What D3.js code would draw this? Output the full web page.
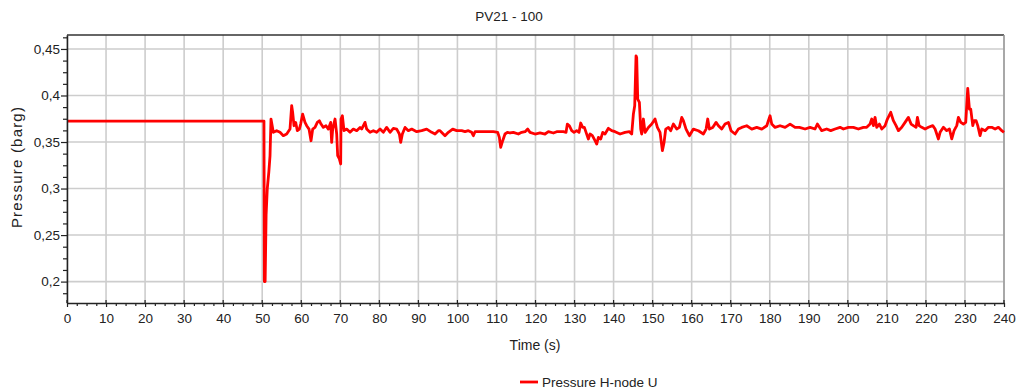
<!DOCTYPE html>
<html>
<head>
<meta charset="utf-8">
<script src="https://cdn.jsdelivr.net/npm/d3@7"></script>
<style>
  html, body { margin: 0; padding: 0; background: #fff; }
  svg { display: block; }
  text { font-family: "Liberation Sans", Arial, sans-serif; fill: #222; }
</style>
</head>
<body>
<svg id="chart" width="1019" height="391"></svg>
<script>
// ---- data ----
const chartTitle = "PV21 - 100";
const seriesName = "Pressure H-node U";
const xLabel = "Time (s)";
const yLabel = "Pressure (barg)";
const xTickValues = [0,10,20,30,40,50,60,70,80,90,100,110,120,130,140,150,160,170,180,190,200,210,220,230,240];
const yTickValues = [0.2, 0.25, 0.3, 0.35, 0.4, 0.45];
const yTickLabels = ["0,2", "0,25", "0,3", "0,35", "0,4", "0,45"];

const timeSec = [
  0, 50.45, 50.55, 50.75, 51.0, 51.3, 51.7, 52.0,
  52.25, 52.85, 53.70, 54.56, 55.41, 56.27, 57.12, 57.55, 57.80, 58.14, 58.57, 59.00,
  59.51, 59.85, 60.36, 60.96, 61.39, 61.99, 62.50, 62.93, 63.52, 64.12, 64.63, 65.06,
  65.66, 66.34, 66.94, 67.54, 67.79, 68.05, 68.65, 69.08, 69.33, 69.76, 70.10, 70.19,
  70.53, 70.95, 71.64, 72.49, 73.34, 74.20, 75.05, 75.48, 76.33, 76.76, 77.61, 78.47,
  79.32, 80.18, 81.03, 81.88, 82.74, 83.59, 84.45, 85.13, 85.47, 85.90, 86.58, 87.44,
  88.29, 89.57, 90.85, 92.13, 93.41, 94.27, 95.12,
  95.54, 96.82, 97.68, 98.79, 99.81, 101.09, 101.95, 102.80, 103.65, 104.08, 104.51,
  105.79, 107.50, 109.21, 110.32, 110.74, 111.08, 111.60, 112.19, 112.79, 113.48,
  114.33, 115.61, 116.46, 117.32, 118.00, 118.60, 119.88, 121.16, 122.44, 123.30,
  124.58, 125.43, 127.14, 127.82, 128.16, 128.68, 129.27, 129.87, 130.55, 131.15,
  131.58, 132.09, 132.52, 132.95, 133.54, 133.97, 134.57, 135.25, 135.68, 136.11,
  136.70, 137.22, 137.81, 138.67, 139.52, 140.38, 141.66, 142.94, 144.05,
  144.64, 145.07, 145.41, 145.75, 145.92, 146.18, 146.61, 146.95, 147.20, 147.63,
  148.06, 148.91, 149.77, 150.62, 151.22, 151.90, 152.50, 152.93, 153.35, 154.04,
  154.63, 155.32, 156.17, 156.85, 157.45, 157.88, 158.56, 159.42, 160.44, 161.72,
  163.00, 163.69, 164.11, 164.54, 165.39, 166.25, 166.85, 167.70, 168.55, 169.41,
  170.09, 171.12, 171.97, 172.82, 174.10, 175.39, 176.67, 177.95, 179.23, 180.08,
  180.51, 181.36, 182.64, 183.93, 185.21, 186.49, 187.60,
  189.04, 190.32, 191.60, 192.20, 193.31, 194.59, 195.62, 196.73, 198.01, 198.86,
  200.14, 201.42, 202.70, 203.99, 204.84, 205.69, 206.12, 206.55, 206.97, 207.40,
  208.08, 208.68, 209.54, 210.13, 210.99, 211.67, 212.35, 212.95, 213.81, 214.66,
  215.51, 216.20, 216.79, 217.48, 217.82, 218.25, 218.93, 219.78, 220.64, 221.75,
  222.35, 223.20, 223.63, 224.48, 225.33, 226.02, 226.62, 227.21, 227.90, 228.32,
  228.92, 229.60, 230.20, 230.71, 231.14, 231.48, 232.00, 232.34, 232.85, 233.28,
  233.87, 234.30, 235.16, 236.01, 236.86, 237.72, 238.57, 239.43, 240.0
];

const pressureBarg = [
  0.3725, 0.3725, 0.200, 0.200, 0.272, 0.300, 0.318, 0.335,
  0.3747, 0.3604, 0.3622, 0.3604, 0.3568, 0.3586, 0.3639, 0.3890, 0.3818, 0.3675, 0.3711, 0.3622,
  0.3639, 0.3693, 0.3800, 0.3711, 0.3675, 0.3639, 0.3514, 0.3639, 0.3657, 0.3711, 0.3729, 0.3693,
  0.3657, 0.3675, 0.3639, 0.3711, 0.3496, 0.3639, 0.3747, 0.3586, 0.3353, 0.3318, 0.3264, 0.3747,
  0.3783, 0.3622, 0.3639, 0.3604, 0.3639, 0.3622, 0.3657, 0.3639, 0.3711, 0.3639, 0.3604, 0.3622,
  0.3604, 0.3639, 0.3604, 0.3657, 0.3604, 0.3647, 0.3639, 0.3586, 0.3496, 0.3586, 0.3657, 0.3622,
  0.3639, 0.3611, 0.3622, 0.3639, 0.3604, 0.3586, 0.3622,
  0.3622, 0.3568, 0.3604, 0.3639, 0.3622, 0.3622, 0.3611, 0.3622, 0.3604, 0.3568, 0.3611,
  0.3611, 0.3611, 0.3611, 0.3604, 0.3550, 0.3443, 0.3514, 0.3586, 0.3604, 0.3597,
  0.3604, 0.3586, 0.3604, 0.3611, 0.3639, 0.3604, 0.3586, 0.3597, 0.3586, 0.3611,
  0.3597, 0.3611, 0.3611, 0.3604, 0.3693, 0.3675, 0.3622, 0.3604, 0.3622, 0.3604,
  0.3704, 0.3657, 0.3657, 0.3604, 0.3532, 0.3586, 0.3568, 0.3514, 0.3478, 0.3550,
  0.3532, 0.3604, 0.3586, 0.3647, 0.3622, 0.3611, 0.3586, 0.3604, 0.3611,
  0.3586, 0.3800, 0.3890, 0.4426, 0.4408, 0.3961, 0.3925, 0.3639, 0.3586, 0.3747,
  0.3603, 0.3657, 0.3693, 0.3747, 0.3657, 0.3603, 0.3407, 0.3496, 0.3639, 0.3657,
  0.3621, 0.3693, 0.3639, 0.3657, 0.3764, 0.3729, 0.3639, 0.3568, 0.3639, 0.3621,
  0.3586, 0.3639, 0.3747, 0.3639, 0.3657, 0.3711, 0.3675, 0.3639, 0.3693, 0.3711,
  0.3621, 0.3586, 0.3639, 0.3657, 0.3675, 0.3639, 0.3657, 0.3639, 0.3675, 0.3782,
  0.3693, 0.3657, 0.3675, 0.3657, 0.3693, 0.3657, 0.3657,
  0.3640, 0.3658, 0.3640, 0.3693, 0.3622, 0.3640, 0.3622, 0.3640, 0.3658, 0.3640,
  0.3658, 0.3658, 0.3640, 0.3658, 0.3658, 0.3693, 0.3747, 0.3676, 0.3765, 0.3658,
  0.3693, 0.3640, 0.3676, 0.3747, 0.3819, 0.3729, 0.3676, 0.3622, 0.3658, 0.3711,
  0.3765, 0.3693, 0.3676, 0.3658, 0.3765, 0.3676, 0.3658, 0.3640, 0.3658, 0.3676,
  0.3640, 0.3533, 0.3604, 0.3658, 0.3622, 0.3640, 0.3533, 0.3622, 0.3676, 0.3765,
  0.3711, 0.3693, 0.3711, 0.4076, 0.3854, 0.3854, 0.3676, 0.3729, 0.3729, 0.3676,
  0.3568, 0.3640, 0.3622, 0.3658, 0.3658, 0.3640, 0.3658, 0.3622, 0.3604
];

// ---- layout ----
const W = 1019, H = 391;
const m = { left: 67, right: 1004, top: 35, bottom: 303 };
const svg = d3.select("#chart");
svg.append("rect").attr("width", W).attr("height", H).attr("fill", "#fff");

const x = d3.scaleLinear().domain([0, 240]).range([m.left, m.right]);
const y = d3.scaleLinear().domain([0.177, 0.465]).range([m.bottom, m.top]);

// grid
const grid = svg.append("g");
grid.selectAll("line.v").data(xTickValues).join("line")
  .attr("x1", d => x(d)).attr("x2", d => x(d))
  .attr("y1", m.top).attr("y2", m.bottom)
  .attr("stroke", "#cdcdcd").attr("stroke-width", 1.6);
grid.selectAll("line.h").data(yTickValues).join("line")
  .attr("x1", m.left).attr("x2", m.right)
  .attr("y1", d => y(d)).attr("y2", d => y(d))
  .attr("stroke", "#cdcdcd").attr("stroke-width", 1.6);

// frame: top and right
svg.append("line").attr("x1", m.left).attr("x2", m.right).attr("y1", m.top).attr("y2", m.top)
  .attr("stroke", "#333").attr("stroke-width", 1.5);
svg.append("line").attr("x1", m.right).attr("x2", m.right).attr("y1", m.top).attr("y2", m.bottom)
  .attr("stroke", "#999").attr("stroke-width", 1.5);

// data line
const data = timeSec.map((t, i) => ({ t, p: pressureBarg[i] }));
const line = d3.line().x(d => x(d.t)).y(d => y(d.p));
svg.append("path").datum(data)
  .attr("d", line)
  .attr("fill", "none")
  .attr("stroke", "#ff0000")
  .attr("stroke-width", 2.8)
  .attr("stroke-linejoin", "round");

// minor ticks
const xMinor = d3.range(0, 240.01, 2.5).filter(v => Math.abs(v % 10) > 0.01);
const yMinor = d3.range(0.1875, 0.465, 0.0125).filter(v => Math.abs((v * 400) % 20) > 0.01 && Math.abs((v*400)%20 - 20) > 0.01);

const xAxisG = svg.append("g").attr("transform", `translate(0,${m.bottom})`)
  .call(d3.axisBottom(x).tickValues(xTickValues).tickSize(4).tickSizeOuter(0).tickPadding(6).tickFormat(d3.format("d")));
svg.append("g").attr("transform", `translate(0,${m.bottom})`)
  .call(d3.axisBottom(x).tickValues(xMinor).tickSize(3).tickSizeOuter(0).tickFormat(""))
  .call(g => g.select(".domain").remove());
// major ticks crossing above axis
svg.append("g").selectAll("line").data(xTickValues).join("line")
  .attr("x1", d => x(d)).attr("x2", d => x(d))
  .attr("y1", m.bottom - 3).attr("y2", m.bottom)
  .attr("stroke", "#222").attr("stroke-width", 1.2);

const yAxisG = svg.append("g").attr("transform", `translate(${m.left},0)`)
  .call(d3.axisLeft(y).tickValues(yTickValues).tickSize(6).tickSizeOuter(0).tickPadding(1)
    .tickFormat((d, i) => yTickLabels[i]));
svg.append("g").attr("transform", `translate(${m.left},0)`)
  .call(d3.axisLeft(y).tickValues(yMinor).tickSize(4).tickSizeOuter(0).tickFormat(""))
  .call(g => g.select(".domain").remove());

svg.selectAll(".domain").attr("stroke", "#222").attr("stroke-width", 1.5);
svg.selectAll(".tick line").attr("stroke", "#222").attr("stroke-width", 1.2);
svg.selectAll(".tick text").style("font-family", "'Liberation Sans', Arial, sans-serif")
  .style("font-size", "13.5px").attr("fill", "#222");

// title
svg.append("text").attr("x", 509).attr("y", 21).attr("text-anchor", "middle")
  .style("font-size", "13.5px").text(chartTitle);

// axis labels
svg.append("text").attr("x", 535).attr("y", 350).attr("text-anchor", "middle")
  .style("font-size", "14px").text(xLabel);
svg.append("text").attr("transform", `translate(22,167) rotate(-90)`).attr("text-anchor", "middle")
  .style("font-size", "15px").style("letter-spacing", "1.2px").text(yLabel);

// legend
svg.append("line").attr("x1", 520).attr("x2", 538).attr("y1", 382).attr("y2", 382)
  .attr("stroke", "#ff0000").attr("stroke-width", 2.8);
svg.append("text").attr("x", 542).attr("y", 387).style("font-size", "13.5px").text(seriesName);
</script>
</body>
</html>
